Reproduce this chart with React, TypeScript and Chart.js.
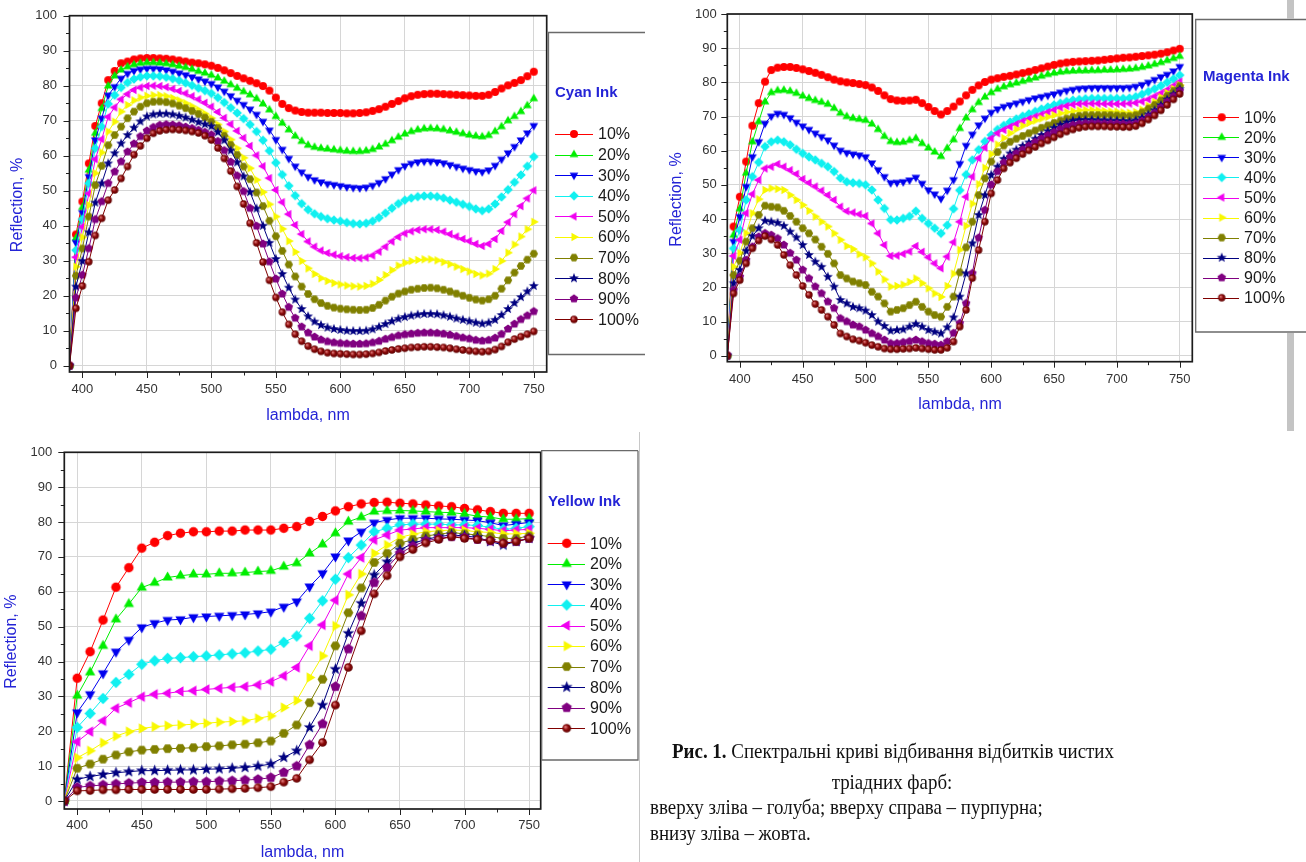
import React, { useEffect, useRef } from 'react';
import { Chart, registerables } from 'chart.js';

Chart.register(...registerables);

const FONT = '"Liberation Sans", Arial, sans-serif';
const SERIF = '"Liberation Serif", "Times New Roman", serif';
const AXIS_BLUE = '#2424d6';

// ---------- wavelengths ----------
const WL5 = [
  390, 395, 400, 405, 410, 415, 420, 425, 430, 435,
  440, 445, 450, 455, 460, 465, 470, 475, 480, 485,
  490, 495, 500, 505, 510, 515, 520, 525, 530, 535,
  540, 545, 550, 555, 560, 565, 570, 575, 580, 585,
  590, 595, 600, 605, 610, 615, 620, 625, 630, 635,
  640, 645, 650, 655, 660, 665, 670, 675, 680, 685,
  690, 695, 700, 705, 710, 715, 720, 725, 730, 735,
  740, 745, 750,
];
const WL10 = [
  390, 400, 410, 420, 430, 440, 450, 460, 470, 480,
  490, 500, 510, 520, 530, 540, 550, 560, 570, 580,
  590, 600, 610, 620, 630, 640, 650, 660, 670, 680,
  690, 700, 710, 720, 730, 740, 750,
];

// ---------- Cyan ink ----------
const cyan10 = [
  0, 37.5, 46.9, 57.8, 68.5, 75, 81.6, 84.2, 86.4, 86.9,
  87.5, 87.8, 87.9, 87.9, 87.8, 87.7, 87.5, 87.2, 86.9, 86.6,
  86.4, 86.1, 85.7, 85.1, 84.4, 83.6, 82.8, 82.1, 81.4, 80.7,
  79.9, 78.6, 76.6, 74.8, 73.6, 72.9, 72.5, 72.3, 72.3, 72.3,
  72.2, 72.2, 72.2, 72.1, 72.1, 72.2, 72.4, 72.8, 73.3, 74,
  74.8, 75.6, 76.4, 77, 77.4, 77.6, 77.7, 77.7, 77.6, 77.5,
  77.4, 77.3, 77.2, 77.1, 77.1, 77.4, 78.2, 79.2, 80.1, 80.8,
  81.6, 82.7, 84,
];
const cyan20 = [
  0, 36.4, 45.2, 55.9, 66.4, 73.5, 79.9, 82.8, 84.5, 85.4,
  86, 86.4, 86.6, 86.6, 86.5, 86.3, 86, 85.6, 85.2, 84.7,
  84.1, 83.6, 83, 82.2, 81.3, 80.3, 79.3, 78.3, 77.4, 76.3,
  74.8, 73.1, 71.2, 69.3, 67.4, 65.6, 64.1, 63, 62.4, 62.1,
  61.9, 61.7, 61.5, 61.3, 61.2, 61.2, 61.4, 61.8, 62.5, 63.3,
  64.3, 65.3, 66.2, 66.9, 67.4, 67.7, 67.8, 67.7, 67.5, 67.1,
  66.7, 66.3, 65.9, 65.6, 65.4, 65.8, 66.9, 68.3, 70, 71.2,
  72.6, 74.3, 76.3,
];
const cyan30 = [
  0, 35.2, 43.7, 54, 64.5, 70.7, 77.3, 79.7, 82.1, 83.5,
  84.3, 84.7, 84.9, 84.9, 84.8, 84.5, 84.1, 83.6, 83.1, 82.5,
  81.9, 81.3, 80.6, 79.6, 78.4, 77.1, 75.8, 74.6, 73.3, 71.8,
  69.8, 67.3, 64.6, 61.8, 59.2, 57, 55.3, 54, 53.1, 52.5,
  52, 51.7, 51.4, 51.1, 50.9, 50.8, 51, 51.5, 52.3, 53.4,
  54.7, 56, 57.1, 57.8, 58.2, 58.4, 58.4, 58.2, 57.9, 57.4,
  56.9, 56.4, 56, 55.6, 55.4, 55.9, 57.2, 59, 60.8, 62.6,
  64.5, 66.5, 68.6,
];
const cyan40 = [
  0, 33, 41.8, 52.1, 62.1, 68.3, 74.8, 77.3, 79.5, 80.9,
  81.9, 82.5, 82.8, 82.8, 82.7, 82.4, 82, 81.5, 80.8, 80.1,
  79.3, 78.6, 77.8, 76.6, 75.2, 73.7, 72.2, 70.6, 68.9, 66.9,
  64.4, 61.4, 58, 54.6, 51.4, 48.6, 46.3, 44.6, 43.4, 42.6,
  42, 41.6, 41.3, 40.9, 40.6, 40.5, 40.7, 41.3, 42.3, 43.6,
  45, 46.3, 47.3, 47.9, 48.3, 48.5, 48.5, 48.3, 47.9, 47.3,
  46.7, 46.1, 45.5, 44.8, 44.3, 44.8, 46.2, 48.2, 50.3, 52.4,
  54.5, 57, 59.7,
];
const cyan50 = [
  0, 31, 39.7, 49.2, 59, 64.7, 71.1, 73.8, 76.1, 77.6,
  78.8, 79.5, 79.9, 80, 79.9, 79.6, 79.1, 78.5, 77.8, 77,
  76.1, 75.1, 74, 72.5, 70.8, 69, 67.1, 65.1, 62.8, 60.1,
  57, 53.6, 50.2, 46.7, 43.3, 40.2, 37.6, 35.5, 34, 32.9,
  32.2, 31.7, 31.3, 31, 30.8, 30.7, 30.9, 31.5, 32.6, 34,
  35.5, 36.8, 37.8, 38.4, 38.8, 39, 39, 38.8, 38.3, 37.6,
  36.9, 36.2, 35.6, 34.8, 34.2, 34.8, 36.2, 38.5, 41, 43.3,
  45.6, 47.8, 50.1,
];
const cyan60 = [
  0, 28.3, 36.7, 45.9, 55, 60.9, 66.9, 69.7, 72.6, 74.5,
  75.8, 76.6, 77.1, 77.3, 77.3, 77, 76.5, 75.8, 75, 74.1,
  73.1, 72, 70.7, 68.9, 66.9, 64.6, 62.1, 59.4, 56.4, 53.1,
  49.6, 46.1, 42.6, 39.1, 35.6, 32.5, 29.9, 27.8, 26.2, 25,
  24.2, 23.6, 23.2, 22.9, 22.7, 22.6, 22.8, 23.4, 24.5, 25.9,
  27.3, 28.6, 29.4, 29.9, 30.2, 30.4, 30.4, 30.1, 29.6, 29,
  28.3, 27.6, 26.9, 26.2, 25.8, 26.3, 27.6, 29.9, 32.3, 34.6,
  36.9, 39, 41.1,
];
const cyan70 = [
  0, 25.7, 33.5, 42.6, 51.6, 57.1, 63, 65.9, 68.3, 70.7,
  72.6, 74, 75, 75.4, 75.5, 75.3, 74.9, 74.3, 73.6, 72.8,
  71.9, 70.9, 69.7, 67.9, 65.7, 63.1, 60.2, 56.9, 53.3, 49.5,
  45.6, 41.4, 37, 32.8, 28.9, 25.5, 22.6, 20.5, 19, 17.9,
  17.1, 16.6, 16.3, 16.1, 16, 15.9, 16, 16.5, 17.4, 18.6,
  19.7, 20.6, 21.2, 21.7, 22, 22.2, 22.3, 22.1, 21.7, 21.2,
  20.6, 20, 19.4, 18.9, 18.6, 19, 20, 22, 24.4, 26.6,
  28.5, 30.3, 32,
];
const cyan80 = [
  0, 22.6, 29.9, 38.1, 46.6, 52.1, 57.8, 60.7, 63.5, 65.9,
  68, 69.8, 71.2, 71.8, 72, 72, 71.8, 71.4, 70.9, 70.3,
  69.6, 69, 68.4, 66.7, 64.4, 61.5, 58.1, 54.1, 49.6, 44.9,
  40, 35.1, 30.5, 26.2, 22.3, 18.9, 16.2, 14.1, 12.6, 11.6,
  10.9, 10.5, 10.2, 10, 9.9, 9.9, 10, 10.4, 11.1, 11.9,
  12.7, 13.4, 13.9, 14.3, 14.6, 14.8, 14.8, 14.7, 14.4, 14,
  13.5, 13.1, 12.7, 12.3, 12, 12.3, 13.1, 14.5, 16.2, 17.9,
  19.6, 21.2, 22.8,
];
const cyan90 = [
  0, 19.4, 25.9, 33.5, 41.8, 46.9, 52.1, 55.4, 58.3, 61.1,
  63.4, 65.5, 67.1, 68.1, 68.7, 68.9, 68.8, 68.6, 68.2, 67.8,
  67.3, 66.7, 66, 64.1, 61.5, 58.2, 54.3, 49.8, 45, 39.9,
  34.8, 29.7, 24.8, 20.5, 16.7, 13.6, 11.1, 9.4, 8.2, 7.4,
  6.9, 6.6, 6.4, 6.3, 6.2, 6.2, 6.3, 6.6, 7, 7.6,
  8.1, 8.6, 8.9, 9.1, 9.3, 9.4, 9.4, 9.3, 9.1, 8.8,
  8.4, 8, 7.7, 7.3, 7.1, 7.3, 7.9, 9, 10.5, 11.9,
  13.2, 14.3, 15.5,
];
const cyan100 = [
  0, 16.4, 22.8, 29.7, 37.2, 42.1, 47.3, 50.2, 53.5, 56.9,
  60.3, 62.8, 65, 66.4, 67.1, 67.4, 67.5, 67.4, 67.2, 66.9,
  66.5, 65.7, 64.5, 62.2, 59.2, 55.6, 51.2, 46.2, 40.7, 35.1,
  29.6, 24.4, 19.5, 15.3, 11.8, 9, 7, 5.6, 4.7, 4.1,
  3.7, 3.5, 3.4, 3.3, 3.2, 3.2, 3.3, 3.5, 3.8, 4.2,
  4.5, 4.8, 5, 5.2, 5.3, 5.4, 5.4, 5.3, 5.2, 5,
  4.7, 4.5, 4.3, 4.1, 4, 4.1, 4.6, 5.5, 6.7, 7.6,
  8.3, 9, 9.8,
];

// ---------- Magenta ink ----------
const mag10 = [
  0, 37.8, 46.5, 56.8, 67.3, 73.9, 80.2, 83.6, 84.3, 84.5,
  84.5, 84.2, 83.8, 83.3, 82.8, 82.2, 81.5, 80.8, 80.3, 80,
  79.8, 79.5, 79.2, 78.5, 77.5, 76.2, 75.1, 74.7, 74.6, 74.7,
  74.9, 73.9, 72.8, 71.6, 70.6, 71.6, 72.9, 74.4, 76.2, 77.8,
  79.1, 80.1, 80.8, 81.2, 81.6, 81.9, 82.3, 82.7, 83.1, 83.6,
  84.1, 84.6, 85.1, 85.5, 85.8, 86, 86.1, 86.2, 86.3, 86.4,
  86.6, 86.8, 87, 87.2, 87.3, 87.5, 87.7, 87.9, 88.1, 88.4,
  88.8, 89.3, 89.8,
];
const mag20 = [
  0, 35.3, 43, 53.4, 62.6, 68.5, 74.3, 77, 77.6, 77.7,
  77.4, 76.8, 76, 75.3, 74.7, 74.2, 73.6, 72.4, 71, 70,
  69.5, 69.2, 68.9, 67.8, 66.2, 64.2, 62.7, 62.4, 62.5, 63,
  63.6, 62.1, 60.8, 59.6, 58.3, 60.7, 63.2, 66.5, 69.6, 72,
  74.1, 75.7, 77, 78, 78.7, 79.3, 79.8, 80.3, 80.8, 81.3,
  81.8, 82.3, 82.7, 83, 83.2, 83.3, 83.4, 83.4, 83.5, 83.5,
  83.6, 83.6, 83.7, 83.8, 83.9, 84.1, 84.4, 84.8, 85.3, 85.8,
  86.4, 87, 87.6,
];
const mag30 = [
  0, 33.4, 40.7, 49.5, 58.2, 62.6, 68, 70.1, 70.9, 70.6,
  69.6, 68.3, 67.2, 66.2, 65.1, 64.1, 63.1, 61.6, 60.1, 59.4,
  59, 58.7, 58.2, 56.4, 54.4, 52.4, 50.6, 50.7, 50.9, 51.4,
  52.2, 50.4, 48.5, 47.3, 46, 48.4, 51.5, 56.2, 61.5, 64.8,
  67.5, 69.5, 71.2, 72.2, 72.9, 73.4, 73.9, 74.4, 74.9, 75.4,
  75.8, 76.2, 76.6, 77.1, 77.6, 77.9, 78.2, 78.3, 78.4, 78.4,
  78.4, 78.4, 78.4, 78.4, 78.5, 78.8, 79.3, 80, 80.8, 81.6,
  82.3, 83.3, 84.6,
];
const mag40 = [
  0, 31.4, 36.8, 45.6, 52.4, 56.6, 61.2, 62.6, 63.1, 62.6,
  61.7, 60.4, 59.2, 58.2, 57.3, 56.3, 55.3, 53.9, 52, 50.9,
  50.6, 50.4, 50, 48.5, 45.6, 43.1, 39.8, 39.7, 40.2, 40.8,
  42.3, 40.2, 38.7, 37.3, 35.8, 38.2, 43, 48.4, 53, 57.3,
  60.3, 62.7, 64.6, 66.2, 67.4, 68.4, 69.3, 70.1, 70.8, 71.5,
  72.2, 72.8, 73.4, 73.9, 74.4, 74.8, 75, 75.2, 75.3, 75.3,
  75.3, 75.3, 75.3, 75.3, 75.4, 75.8, 76.5, 77.3, 78.1, 79,
  80, 81, 82.1,
];
const mag50 = [
  0, 29.2, 33.9, 41.7, 47.3, 51.4, 54.8, 55.3, 56.1, 55.3,
  54.3, 53.2, 51.7, 50.6, 49.5, 48.3, 47, 45.6, 43.6, 42.3,
  41.9, 41.4, 40.9, 38.7, 35.8, 32.4, 29.2, 29.3, 29.8, 30.5,
  32.1, 30.4, 28.8, 27, 25.6, 29, 33.2, 39.2, 46.5, 52.4,
  57.8, 60.9, 63.6, 65.1, 66.1, 67, 67.8, 68.6, 69.3, 70,
  70.6, 71.3, 71.9, 72.6, 73.1, 73.5, 73.7, 73.8, 73.8, 73.8,
  73.7, 73.7, 73.7, 73.7, 73.8, 74, 74.4, 75, 75.9, 76.8,
  77.8, 79, 80.2,
];
const mag60 = [
  0, 26, 30, 35.8, 41.7, 45.8, 48.5, 49, 48.8, 48.5,
  47, 45.6, 44.1, 42.4, 40.7, 39.2, 37.8, 35.8, 33.9, 32.1,
  31.2, 29.7, 28.8, 27, 24.6, 22.3, 20.2, 20.4, 20.8, 21.6,
  22.6, 21.2, 19.7, 18.2, 17.2, 20.4, 24, 31, 38, 44.5,
  50.2, 55, 59, 61.8, 63.7, 65.1, 66.3, 67.3, 68.1, 68.8,
  69.4, 69.9, 70.4, 70.9, 71.3, 71.6, 71.8, 71.9, 71.9, 71.8,
  71.6, 71.5, 71.4, 71.2, 71.1, 71.3, 72, 73.1, 74.3, 75.6,
  76.9, 78.1, 79.2,
];
const mag70 = [
  0, 23.6, 27.8, 33.4, 37.3, 41.2, 43.9, 43.6, 43.4, 42.4,
  40.9, 39.2, 37.3, 35.8, 34, 31.9, 29.8, 27, 23.6, 22.6,
  21.7, 21.2, 20.7, 18.7, 17.3, 15.3, 12.9, 13.4, 13.9, 14.8,
  15.8, 14.3, 12.9, 11.9, 11.4, 14.3, 17.3, 24.4, 31.7, 39.2,
  47, 51.9, 56.8, 59.6, 61.5, 62.6, 63.5, 64.3, 65.1, 65.9,
  66.7, 67.4, 68.1, 68.8, 69.4, 69.9, 70.2, 70.4, 70.4, 70.4,
  70.4, 70.4, 70.3, 70.2, 70.1, 70.4, 71.2, 72.3, 73.4, 74.7,
  76.1, 77.5, 78.9,
];
const mag80 = [
  0, 21.2, 25.1, 30.7, 35, 37.3, 39.5, 39.2, 38.9, 38,
  36.3, 34.6, 32.4, 29.5, 27.5, 26, 23.1, 20.2, 16.3, 15.3,
  14.3, 13.9, 13.2, 11.9, 10, 8.7, 7.3, 7.5, 7.7, 8.5,
  9.3, 8.5, 7.5, 7, 6.5, 8.3, 11.2, 17.3, 24.1, 32.9,
  41.2, 47, 52.9, 55.3, 57.6, 59.2, 60.3, 61.4, 62.4, 63.5,
  64.6, 65.7, 66.7, 67.6, 68.3, 68.8, 69, 69, 69, 68.9,
  68.9, 68.8, 68.8, 68.7, 68.6, 68.9, 69.6, 70.6, 71.8, 73.3,
  75, 76.5, 78,
];
const mag90 = [
  0, 19.2, 23.1, 28, 31.9, 34.8, 35.8, 35.3, 34.3, 32.4,
  30, 28, 25.1, 22.6, 20.2, 18.2, 15.8, 13.9, 10.9, 10,
  9, 8.5, 7.5, 6.5, 5.6, 4.6, 3.6, 3.6, 3.9, 4.2,
  4.6, 4.1, 3.6, 3.4, 3.1, 4.1, 6.6, 9.5, 15.3, 24.1,
  34.5, 42.6, 50, 53.9, 56.5, 58.1, 59.2, 60.3, 61.4, 62.5,
  63.5, 64.5, 65.4, 66.3, 67, 67.5, 67.8, 68, 68, 68,
  67.9, 67.9, 67.9, 67.8, 67.7, 67.9, 68.7, 69.8, 71, 72.6,
  74.3, 75.9, 77.5,
];
const mag100 = [
  0, 18.2, 22.1, 27, 31.4, 33.7, 35, 34, 32.4, 29.5,
  26.5, 23.6, 20.4, 17.8, 15.1, 13.4, 11.4, 9, 6.5, 5.6,
  4.8, 4.4, 3.8, 3.1, 2.6, 2.1, 1.9, 1.9, 2, 2.1,
  2.3, 2.1, 1.9, 1.7, 1.7, 2.3, 4.1, 8.5, 13.4, 22.7,
  30.9, 39.2, 47.5, 51.4, 54.8, 56.5, 57.8, 59, 60.1, 61.1,
  62.1, 63, 63.9, 64.8, 65.6, 66.2, 66.7, 67, 67.1, 67.1,
  67.1, 67, 67, 66.9, 66.9, 67.2, 68, 69.1, 70.3, 71.8,
  73.4, 75, 76.6,
];

// ---------- Yellow ink ----------
const yel10 = [
  0, 35.2, 42.8, 51.9, 61.3, 66.9, 72.5, 74.2, 76.1, 76.8,
  77.2, 77.2, 77.4, 77.4, 77.7, 77.7, 77.7, 78.2, 78.7, 80.2,
  81.6, 83.2, 84.4, 85.2, 85.6, 85.7, 85.4, 85.2, 84.9, 84.6,
  84.4, 83.9, 83.5, 83, 82.5, 82.5, 82.5,
];
const yel20 = [
  0, 30.2, 36.9, 44.5, 52.1, 56.5, 61.2, 62.6, 64.1, 64.6,
  65, 65, 65.3, 65.3, 65.5, 65.8, 66, 67.2, 68.2, 71,
  73.6, 76.8, 80.1, 81.4, 83, 83.2, 83.3, 83.2, 83, 82.8,
  82.7, 82.3, 81.7, 81.4, 80.8, 80.8, 81,
];
const yel30 = [
  0, 25.4, 30.6, 36.6, 42.8, 46.2, 49.8, 51, 51.9, 52.1,
  52.7, 52.9, 53.1, 53.3, 53.5, 53.8, 54.3, 55.7, 57.2, 61.5,
  65.3, 70.1, 74.7, 77.2, 79.8, 80.6, 81.1, 81.1, 81.1, 80.9,
  80.8, 80.6, 80.4, 79.8, 79, 79.4, 79.9,
];
const yel40 = [
  0, 21.1, 25.1, 29.4, 34, 36.3, 39.2, 40.2, 40.9, 41.1,
  41.4, 41.6, 41.9, 42.2, 42.5, 43, 43.5, 45.5, 47.3, 52.4,
  57.4, 63.6, 69.8, 73.4, 77.2, 78.2, 79.2, 79.4, 79.4, 79.4,
  79.2, 79.2, 79, 78.5, 77.9, 78.2, 78.7,
];
const yel50 = [
  0, 17, 19.9, 23, 26.6, 28.2, 29.9, 30.6, 30.9, 31.4,
  31.6, 32, 32.3, 32.6, 32.8, 33.3, 34.2, 35.9, 38.3, 44.5,
  50.5, 57.6, 65.1, 69.8, 74.9, 76.3, 77.7, 78, 78.4, 78.4,
  78.4, 78.4, 78.2, 77.9, 77.5, 77.7, 77.9,
];
const yel60 = [
  0, 12.4, 14.4, 16.7, 18.6, 19.9, 20.8, 21.3, 21.6, 21.8,
  22, 22.3, 22.6, 22.8, 23, 23.7, 24.4, 26.8, 28.8, 35.4,
  41.6, 50.2, 59.1, 65.1, 71, 73.4, 75.6, 76.5, 77.2, 77.5,
  77.7, 77.6, 77.2, 77, 76.6, 76.6, 76.8,
];
const yel70 = [
  0, 9.4, 10.6, 12, 13.2, 14.1, 14.6, 14.8, 15, 15.1,
  15.3, 15.6, 15.8, 16.1, 16.3, 16.7, 17.2, 19.4, 21.8, 28.2,
  34.9, 44.5, 54, 61.1, 68.4, 71, 73.9, 75, 76, 76.5,
  77, 76.6, 76.3, 75.8, 75.3, 75.3, 76,
];
const yel80 = [
  0, 6.2, 7, 7.6, 8.1, 8.4, 8.7, 8.7, 8.8, 8.9,
  8.9, 9.1, 9.2, 9.4, 9.6, 10, 10.6, 12.5, 14.4, 21.1,
  27.5, 37.8, 48.1, 56.7, 64.8, 68.6, 72, 73.9, 75, 75.8,
  76.3, 76, 75.6, 74.4, 73.4, 74.4, 75.3,
];
const yel90 = [
  0, 3.9, 4.3, 4.6, 4.9, 5.1, 5.3, 5.3, 5.4, 5.4,
  5.5, 5.5, 5.7, 5.8, 6, 6.2, 6.7, 8.2, 10, 16.1,
  22.1, 32.8, 43.6, 53.1, 62.6, 66.9, 71, 73.1, 74.6, 75.3,
  75.8, 75.6, 75, 74.6, 73.9, 74.4, 75.3,
];
const yel100 = [
  0, 2.9, 3, 3.2, 3.2, 3.3, 3.3, 3.3, 3.3, 3.3,
  3.3, 3.3, 3.4, 3.5, 3.6, 3.8, 4.1, 5.4, 6.5, 11.8,
  16.8, 27.5, 38.3, 48.8, 59.4, 64.6, 70, 72.1, 74, 75,
  75.8, 75.3, 75, 74.7, 73.9, 74.4, 75.3,
];

const CYAN_SERIES = [cyan10, cyan20, cyan30, cyan40, cyan50, cyan60, cyan70, cyan80, cyan90, cyan100];
const MAGENTA_SERIES = [mag10, mag20, mag30, mag40, mag50, mag60, mag70, mag80, mag90, mag100];
const YELLOW_SERIES = [yel10, yel20, yel30, yel40, yel50, yel60, yel70, yel80, yel90, yel100];

const LEVELS = ['10%', '20%', '30%', '40%', '50%', '60%', '70%', '80%', '90%', '100%'];
const SERIES_COLORS = ['#ff0000', '#00ee00', '#0000ee', '#10f0f0', '#f000f0', '#f8f800', '#808000', '#000080', '#800080', '#800000'];
const MARKER_SHAPES = ['circle', 'up', 'down', 'diamond', 'left', 'right', 'hexagon', 'star', 'pentagon', 'sphere'];
const X_TICK_VALUES = [400, 450, 500, 550, 600, 650, 700, 750];
const Y_TICK_VALUES = [0, 10, 20, 30, 40, 50, 60, 70, 80, 90, 100];
const X_TITLE = 'lambda, nm';
const Y_TITLE = 'Reflection, %';

type LegendSpec = {
  boxL: number; boxT: number; boxR: number; boxB: number; rightBorder: boolean;
  titleX: number; titleY: number; row0: number; rowH: number;
  lineL: number; lineR: number; markX: number; textX: number;
};
type PanelSpec = {
  key: string; title: string; xs: number[]; series: number[][];
  left: number; top: number; width: number; height: number;
  pad: { left: number; top: number; right: number; bottom: number };
  yAxisW: number; xAxisH: number; xMax: number; yMin: number;
  xTickPad: number; yTickPad: number; markerSize: number;
  yTitle: { x: number; y: number }; xTitle: { x: number; y: number };
  legend: LegendSpec;
};

const PANELS: PanelSpec[] = [
  {
    key: 'cyan', title: 'Cyan Ink', xs: WL5, series: CYAN_SERIES,
    left: 0, top: 0, width: 650, height: 430,
    pad: { left: 9.5, top: 15.7, right: 103.3, bottom: 8 },
    yAxisW: 60, xAxisH: 50, xMax: 760, yMin: -1.8,
    xTickPad: 10, yTickPad: 12.5, markerSize: 8,
    yTitle: { x: 18, y: 205 }, xTitle: { x: 308, y: 416 },
    legend: {
      boxL: 548.5, boxT: 32.5, boxR: 645, boxB: 354.5, rightBorder: false,
      titleX: 555, titleY: 93, row0: 134, rowH: 20.6,
      lineL: 555, lineR: 593, markX: 574, textX: 598,
    },
  },
  {
    key: 'magenta', title: 'Magenta Ink', xs: WL5, series: MAGENTA_SERIES,
    left: 650, top: 0, width: 656, height: 430,
    pad: { left: 17.3, top: 14, right: 113.7, bottom: 18.3 },
    yAxisW: 60, xAxisH: 50, xMax: 760, yMin: -1.76,
    xTickPad: 10, yTickPad: 10.6, markerSize: 8,
    yTitle: { x: 27, y: 199.5 }, xTitle: { x: 310, y: 405 },
    legend: {
      boxL: 545.7, boxT: 19.5, boxR: 656, boxB: 332, rightBorder: false,
      titleX: 553, titleY: 77, row0: 117.3, rowH: 20.05,
      lineL: 553, lineR: 589, markX: 571.7, textX: 594,
    },
  },
  {
    key: 'yellow', title: 'Yellow Ink', xs: WL10, series: YELLOW_SERIES,
    left: 0, top: 430, width: 640, height: 432,
    pad: { left: 4.3, top: 22.3, right: 99.3, bottom: 8 },
    yAxisW: 60, xAxisH: 45, xMax: 759, yMin: -2.3,
    xTickPad: 9, yTickPad: 12, markerSize: 9.5,
    yTitle: { x: 12, y: 211.7 }, xTitle: { x: 302.5, y: 422.7 },
    legend: {
      boxL: 541.7, boxT: 20.7, boxR: 638, boxB: 330, rightBorder: true,
      titleX: 548, titleY: 72, row0: 113.3, rowH: 20.55,
      lineL: 547.7, lineR: 585, markX: 566.7, textX: 590,
    },
  },
];

function makeMarker(shape: string, color: string, size: number): HTMLCanvasElement {
  const dim = Math.ceil(size * 1.5) + 2;
  const c = document.createElement('canvas');
  c.width = dim;
  c.height = dim;
  const g = c.getContext('2d') as CanvasRenderingContext2D;
  const cx = dim / 2;
  const cy = dim / 2;
  const r = size / 2;
  const poly = (n: number, rad: number, start: number) => {
    g.beginPath();
    for (let k = 0; k < n; k++) {
      const ang = start + (k * 2 * Math.PI) / n;
      const px = cx + rad * Math.cos(ang);
      const py = cy + rad * Math.sin(ang);
      if (k === 0) g.moveTo(px, py);
      else g.lineTo(px, py);
    }
    g.closePath();
  };
  g.fillStyle = color;
  switch (shape) {
    case 'circle':
      g.beginPath();
      g.arc(cx, cy, r, 0, Math.PI * 2);
      break;
    case 'up':
      poly(3, r * 1.25, -Math.PI / 2);
      break;
    case 'down':
      poly(3, r * 1.25, Math.PI / 2);
      break;
    case 'left':
      poly(3, r * 1.25, Math.PI);
      break;
    case 'right':
      poly(3, r * 1.25, 0);
      break;
    case 'diamond':
      poly(4, r * 1.2, 0);
      break;
    case 'hexagon':
      poly(6, r * 1.05, 0);
      break;
    case 'pentagon':
      poly(5, r * 1.12, -Math.PI / 2);
      break;
    case 'star': {
      g.beginPath();
      for (let k = 0; k < 10; k++) {
        const ang = -Math.PI / 2 + (k * Math.PI) / 5;
        const rad = k % 2 === 0 ? r * 1.3 : r * 0.55;
        const px = cx + rad * Math.cos(ang);
        const py = cy + rad * Math.sin(ang);
        if (k === 0) g.moveTo(px, py);
        else g.lineTo(px, py);
      }
      g.closePath();
      break;
    }
    case 'sphere': {
      const grad = g.createRadialGradient(cx - r * 0.3, cy - r * 0.3, r * 0.1, cx, cy, r);
      grad.addColorStop(0, '#e07a7a');
      grad.addColorStop(0.45, '#8c0a0a');
      grad.addColorStop(1, '#580000');
      g.fillStyle = grad;
      g.beginPath();
      g.arc(cx, cy, r * 0.92, 0, Math.PI * 2);
      break;
    }
    default:
      g.beginPath();
      g.arc(cx, cy, r, 0, Math.PI * 2);
  }
  g.fill();
  return c;
}

function decorPlugin(spec: PanelSpec, markers: HTMLCanvasElement[]) {
  return {
    id: 'decor-' + spec.key,
    afterDraw(chart: any) {
      const ctx: CanvasRenderingContext2D = chart.ctx;
      const a = chart.chartArea;
      const xs = chart.scales.x;
      const ys = chart.scales.y;
      ctx.save();
      // tick marks (major + minor), outward
      ctx.strokeStyle = '#222';
      ctx.lineWidth = 1;
      for (let v = 400; v <= 750; v += 25) {
        const px = Math.round(xs.getPixelForValue(v)) + 0.5;
        const len = v % 50 === 0 ? 6 : 3.5;
        ctx.beginPath();
        ctx.moveTo(px, a.bottom);
        ctx.lineTo(px, a.bottom + len);
        ctx.stroke();
      }
      for (let v = 0; v <= 100; v += 5) {
        const py = Math.round(ys.getPixelForValue(v)) + 0.5;
        const len = v % 10 === 0 ? 6 : 3.5;
        ctx.beginPath();
        ctx.moveTo(a.left, py);
        ctx.lineTo(a.left - len, py);
        ctx.stroke();
      }
      // frame
      ctx.strokeStyle = '#1c1c1c';
      ctx.lineWidth = 1.7;
      ctx.strokeRect(a.left, a.top, a.right - a.left, a.bottom - a.top);
      // axis titles
      ctx.fillStyle = AXIS_BLUE;
      ctx.font = '16px ' + FONT;
      ctx.textAlign = 'center';
      ctx.textBaseline = 'middle';
      ctx.fillText(X_TITLE, spec.xTitle.x, spec.xTitle.y);
      ctx.save();
      ctx.translate(spec.yTitle.x, spec.yTitle.y);
      ctx.rotate(-Math.PI / 2);
      ctx.fillText(Y_TITLE, 0, 0);
      ctx.restore();
      // legend box
      const L = spec.legend;
      ctx.fillStyle = '#ffffff';
      ctx.fillRect(L.boxL, L.boxT, L.boxR - L.boxL, L.boxB - L.boxT);
      ctx.strokeStyle = '#6a6a6a';
      ctx.lineWidth = 1.3;
      ctx.beginPath();
      ctx.moveTo(L.boxR, L.boxT);
      ctx.lineTo(L.boxL, L.boxT);
      ctx.lineTo(L.boxL, L.boxB);
      ctx.lineTo(L.boxR, L.boxB);
      if (L.rightBorder) ctx.lineTo(L.boxR, L.boxT);
      ctx.stroke();
      ctx.textAlign = 'left';
      ctx.fillStyle = AXIS_BLUE;
      ctx.font = 'bold 15px ' + FONT;
      ctx.fillText(spec.title, L.titleX, L.titleY);
      ctx.font = '16px ' + FONT;
      LEVELS.forEach((lab, i) => {
        const y = L.row0 + i * L.rowH;
        ctx.strokeStyle = SERIES_COLORS[i];
        ctx.lineWidth = 1;
        ctx.beginPath();
        ctx.moveTo(L.lineL, Math.round(y) + 0.5);
        ctx.lineTo(L.lineR, Math.round(y) + 0.5);
        ctx.stroke();
        const m = markers[i];
        ctx.drawImage(m, L.markX - m.width / 2, y - m.height / 2);
        ctx.fillStyle = '#1a1a1a';
        ctx.fillText(lab, L.textX, y + 1);
      });
      ctx.restore();
    },
  };
}

function Panel({ spec }: { spec: PanelSpec }) {
  const ref = useRef<HTMLCanvasElement>(null);
  useEffect(() => {
    const canvas = ref.current;
    if (!canvas) return;
    const markers = SERIES_COLORS.map((c, i) => makeMarker(MARKER_SHAPES[i], c, spec.markerSize));
    const datasets = spec.series.map((vals, i) => ({
      label: LEVELS[i],
      data: spec.xs.map((x, j) => ({ x, y: vals[j] })),
      borderColor: SERIES_COLORS[i],
      backgroundColor: SERIES_COLORS[i],
      borderWidth: 1,
      pointStyle: markers[i] as any,
      pointRadius: 4,
      pointHoverRadius: 4,
      pointBorderWidth: 0,
      order: 9 - i,
      tension: 0,
      fill: false,
    }));
    const tickFont = { family: FONT, size: 13 };
    const chart = new Chart(canvas, {
      type: 'line',
      data: { datasets },
      options: {
        animation: false,
        responsive: false,
        devicePixelRatio: 1,
        events: [],
        layout: { padding: spec.pad },
        plugins: {
          legend: { display: false },
          tooltip: { enabled: false },
          title: { display: false },
        },
        scales: {
          x: {
            type: 'linear',
            min: 390,
            max: spec.xMax,
            afterBuildTicks: (s: any) => {
              s.ticks = X_TICK_VALUES.map((v) => ({ value: v }));
            },
            afterFit: (s: any) => {
              s.height = spec.xAxisH;
              s.paddingLeft = 0;
              s.paddingRight = 0;
            },
            grid: { color: '#d6d6d6', lineWidth: 1, drawTicks: false },
            border: { display: false },
            ticks: { padding: spec.xTickPad, color: '#333', font: tickFont, maxRotation: 0, autoSkip: false },
          },
          y: {
            type: 'linear',
            min: spec.yMin,
            max: 100,
            afterBuildTicks: (s: any) => {
              s.ticks = Y_TICK_VALUES.map((v) => ({ value: v }));
            },
            afterFit: (s: any) => {
              s.width = spec.yAxisW;
              s.paddingTop = 0;
              s.paddingBottom = 0;
            },
            grid: { color: '#d6d6d6', lineWidth: 1, drawTicks: false },
            border: { display: false },
            ticks: { padding: spec.yTickPad, color: '#333', font: tickFont, autoSkip: false },
          },
        },
      } as any,
      plugins: [decorPlugin(spec, markers)],
    });
    return () => chart.destroy();
  }, [spec]);
  return (
    <canvas
      ref={ref}
      width={spec.width}
      height={spec.height}
      style={{ position: 'absolute', left: spec.left, top: spec.top, width: spec.width, height: spec.height }}
    />
  );
}

const CAPTION_BOLD = 'Рис. 1.';
const CAPTION_L1 = ' Спектральні криві відбивання відбитків чистих';
const CAPTION_L2 = 'тріадних фарб:';
const CAPTION_L3 = 'вверху зліва – голуба; вверху справа – пурпурна;';
const CAPTION_L4 = 'внизу зліва – жовта.';

export default function App() {
  const capBase: React.CSSProperties = {
    position: 'absolute',
    fontFamily: SERIF,
    fontSize: 22,
    lineHeight: '26px',
    whiteSpace: 'nowrap',
    color: '#111',
  };
  return (
    <div
      style={{
        position: 'fixed',
        left: 0,
        top: 0,
        width: 1306,
        height: 862,
        background: '#ffffff',
        overflow: 'hidden',
      }}
    >
      {PANELS.map((p) => (
        <Panel key={p.key} spec={p} />
      ))}
      <div style={{ position: 'absolute', left: 1287, top: 0, width: 7, height: 19, background: '#c4c4c4' }} />
      <div style={{ position: 'absolute', left: 1287, top: 333, width: 7, height: 98, background: '#c4c4c4' }} />
      <div style={{ position: 'absolute', left: 639, top: 432, width: 1, height: 430, background: '#c8c8c8' }} />
      <div style={{ ...capBase, left: 593, width: 600, top: 738, textAlign: 'center', transform: 'scaleX(0.86)' }}>
        <b>{CAPTION_BOLD}</b>
        {CAPTION_L1}
      </div>
      <div style={{ ...capBase, left: 592, width: 600, top: 769, textAlign: 'center', transform: 'scaleX(0.86)' }}>
        {CAPTION_L2}
      </div>
      <div style={{ ...capBase, left: 650, top: 794, transform: 'scaleX(0.86)', transformOrigin: 'left center' }}>
        {CAPTION_L3}
      </div>
      <div style={{ ...capBase, left: 650, top: 820, transform: 'scaleX(0.86)', transformOrigin: 'left center' }}>
        {CAPTION_L4}
      </div>
    </div>
  );
}
